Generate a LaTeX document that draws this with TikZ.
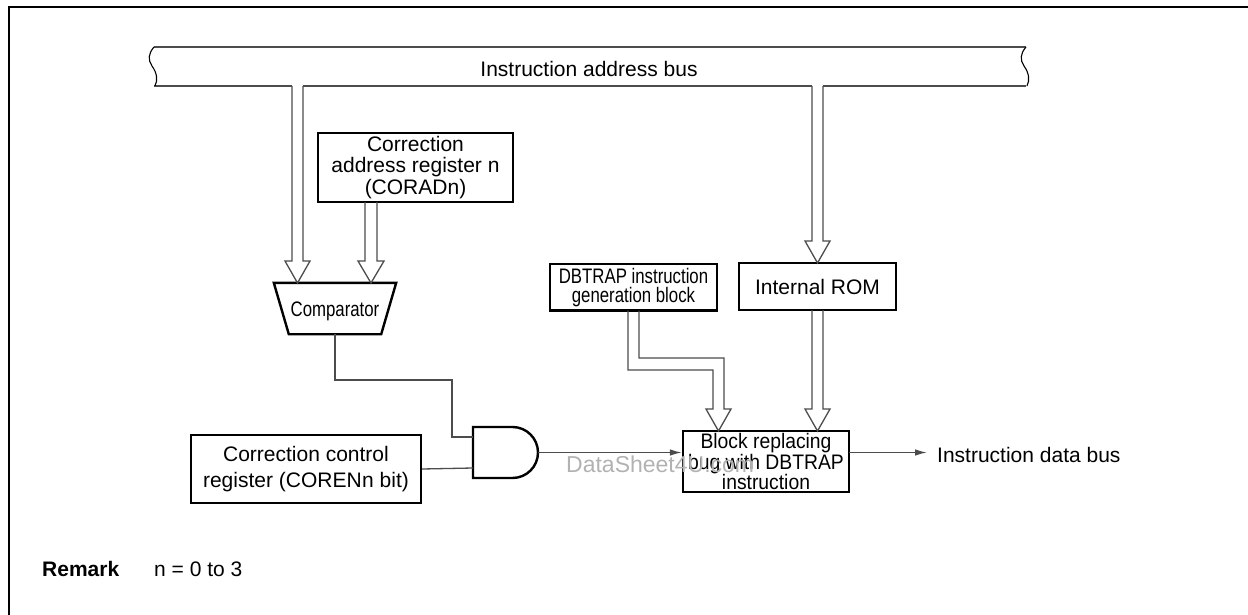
\documentclass[tikz,border=0pt]{standalone}
\usepackage{fontspec}
\setmainfont{Liberation Sans}
\newfontfamily\narrowfont[FakeStretch=0.8]{Liberation Sans}
\newfontfamily\semifont[FakeStretch=0.92]{Liberation Sans}
\usetikzlibrary{arrows.meta,calc}
\newcommand{\hdown}[4]{%
  \draw[thinline] (#1,#3) -- (#1,#4-22) -- (#1-7,#4-22) -- ({(#1+#2)/2},#4) -- (#2+7,#4-22) -- (#2,#4-22) -- (#2,#3);}
\begin{document}
\begin{tikzpicture}[x=1pt,y=-1pt,
  box/.style={draw=black,line width=2.4pt,inner sep=0pt,align=center,
    font=\fontsize{21}{21.5}\selectfont},
  thinline/.style={draw=black!70,line width=1.3pt,line join=miter},
  tip/.style={-{Latex[length=12pt,width=6.5pt]}},
  txt/.style={inner sep=0pt,font=\fontsize{21}{22}\selectfont}]
\useasboundingbox (0,0) rectangle (1248,615);
% frame
\draw[line width=2.6pt] (9,615) -- (9,7) -- (1248,7);
% bus
\draw[thinline] (154,47) -- (1026,47);
\draw[thinline] (154,86) -- (292,86) (303,86) -- (812,86) (823,86) -- (1026,86);
\draw[black,line width=1.1pt] (154,47) .. controls (148,54) and (148,60) .. (152,66)
  .. controls (157,73) and (158,80) .. (155,86);
\draw[black,line width=1.1pt] (1026,47) .. controls (1020,54) and (1020,60) .. (1024,66)
  .. controls (1029,73) and (1030,80) .. (1027,86);
\node[txt] (busl) at (589,69) {Instruction address bus};
% boxes
\node[box,minimum width=195pt,minimum height=69pt] (corad) at (415.5,167.5)
  {Correction\\address register n\\(CORADn)};
\node[box,minimum width=167pt,minimum height=46.5pt,font=\narrowfont\fontsize{21}{19}\selectfont] (dbt) at (633.5,287.2)
  {DBTRAP instruction\\generation block};
\node[box,minimum width=157pt,minimum height=47pt] (rom) at (817.5,286.5) {Internal ROM};
\node[box,minimum width=166pt,minimum height=61pt,font=\semifont\fontsize{21}{20.5}\selectfont] (blk) at (766,461.5)
  {Block replacing\\bug with DBTRAP\\instruction};
\node[box,minimum width=230pt,minimum height=68pt,font=\fontsize{21}{25.5}\selectfont] (ccr) at (306,469)
  {Correction control\\register (COREN\kern0.5pt n bit)};
% comparator
\node[inner sep=0pt,minimum width=122pt,minimum height=51pt] (comp) at (335,308.5) {};
\draw[line width=2.4pt,line join=miter] (comp.north west) -- (comp.north east)
  -- ($(comp.south east)+(-15,0)$) -- ($(comp.south west)+(15,0)$) -- cycle;
\node[inner sep=0pt,font=\narrowfont\fontsize{21}{22}\selectfont] at (335,311) {Comparator};
% AND gate
\node[inner sep=0pt,minimum width=65pt,minimum height=51pt] (andg) at (505.5,452.5) {};
\draw[line width=2.4pt,line join=miter] (473,478) -- (473,427) -- (512.5,427)
  arc[start angle=90,end angle=-90,radius=25.5pt] -- cycle;
\coordinate (andA) at (473,437);
\coordinate (andB) at (473,468);
% hollow arrows
\hdown{292}{303}{86}{283}
\hdown{365}{377}{202}{283}
\hdown{812}{823}{86}{263}
\hdown{812}{823}{310}{431}
\draw[thinline] (628,310.5) -- (628,370) -- (713,370) -- (713,409) -- (706,409) -- (718.5,431)
  -- (731,409) -- (724,409) -- (724,358) -- (639,358) -- (639,310.5);
% thin connectors
\draw[thinline] (comp.south) |- (452,380) |- (andA);
\draw[thinline] (ccr.east) -- (andB);
\draw[thinline,tip] (andg.east) -- (andg.east -| blk.west);
\coordinate (blkout) at (849,452.5);
\coordinate (databus) at (927,452.5);
\draw[thinline,tip] (blkout) -- (databus);
\node[txt,anchor=west] (dbl) at (937,455) {Instruction data bus};
% remark
\node[txt,anchor=west] (rem) at (42,569) {\textbf{Remark}};
\node[txt,anchor=west] (remn) at (154,569) {n = 0 to 3};
% watermark
\node[inner sep=0pt,anchor=west,text=black!30,font=\fontsize{23}{24}\selectfont] (wm) at (566,464) {DataSheet4U.com};
\end{tikzpicture}
\end{document}
